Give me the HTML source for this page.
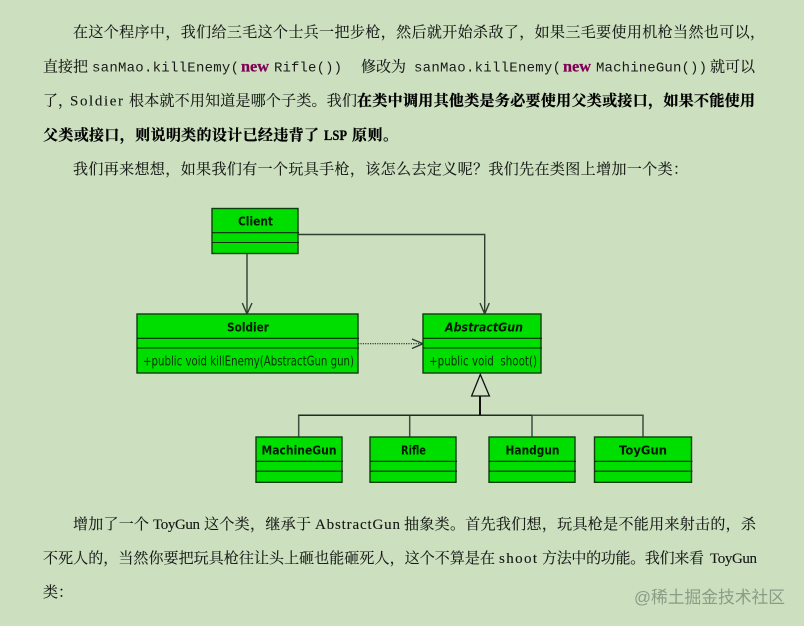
<!DOCTYPE html>
<html><head><meta charset="utf-8">
<style>
html,body{margin:0;padding:0;background:#cce0c0;width:804px;height:626px;overflow:hidden}
svg{display:block;filter:blur(0.35px)}
.t{font-family:"Liberation Serif","Noto Serif CJK SC",serif;font-size:15px;fill:#141714;stroke:#141714;stroke-width:.12}
.b{font-family:"Liberation Serif","Noto Serif CJK SC",serif;font-size:15px;font-weight:700;fill:#000;stroke:#000;stroke-width:.25}
.c{font-family:"Liberation Mono",monospace;font-size:14px;fill:#1a1a1a}
.n{font-family:"Liberation Serif",serif;font-size:16px;font-weight:700;fill:#7f0055;stroke:#7f0055;stroke-width:.25}
.h{font-family:"DejaVu Sans",sans-serif;font-size:12.5px;font-weight:700;fill:#031803;text-anchor:middle}
.m{font-family:"DejaVu Sans",sans-serif;font-size:13px;fill:#083008}
.w{font-family:"Liberation Sans","Noto Sans CJK SC",sans-serif;font-size:16.8px;fill:#8a9c85}
.box{fill:#00de00;stroke:#0d3f0d;stroke-width:1.4}
.sep{stroke:#062806;stroke-width:1.1}
.ln{stroke:#2f3f2f;stroke-width:1.4;fill:none}
</style></head><body>
<svg width="804" height="626" viewBox="0 0 804 626" xmlns="http://www.w3.org/2000/svg">
<rect width="804" height="626" fill="#cce0c0"/>

<text class="t" x="73" y="37" textLength="692" lengthAdjust="spacing">在这个程序中，我们给三毛这个士兵一把步枪，然后就开始杀敌了，如果三毛要使用机枪当然也可以，</text>

<text class="t" x="43" y="71.5" textLength="45" lengthAdjust="spacing">直接把</text>
<text class="c" x="92" y="71.5" textLength="147" lengthAdjust="spacing">sanMao.killEnemy(</text>
<text class="n" x="241" y="71.5" textLength="28" lengthAdjust="spacingAndGlyphs">new</text>
<text class="c" x="274" y="71.5" textLength="68" lengthAdjust="spacing">Rifle())</text>
<text class="t" x="361" y="71.5" textLength="45" lengthAdjust="spacing">修改为</text>
<text class="c" x="414" y="71.5" textLength="147" lengthAdjust="spacing">sanMao.killEnemy(</text>
<text class="n" x="563" y="71.5" textLength="28" lengthAdjust="spacingAndGlyphs">new</text>
<text class="c" x="596" y="71.5" textLength="111" lengthAdjust="spacing">MachineGun())</text>
<text class="t" x="710" y="71.5" textLength="45" lengthAdjust="spacing">就可以</text>

<text class="t" x="43" y="105.5" textLength="30" lengthAdjust="spacing">了，</text>
<text class="t" x="70" y="105.5" textLength="53" lengthAdjust="spacing">Soldier</text>
<text class="t" x="129" y="105.5" textLength="228" lengthAdjust="spacing">根本就不用知道是哪个子类。我们</text>
<text class="b" x="357" y="105.5" textLength="398" lengthAdjust="spacing">在类中调用其他类是务必要使用父类或接口，如果不能使用</text>

<text class="b" x="43" y="140" textLength="276" lengthAdjust="spacing">父类或接口，则说明类的设计已经违背了</text>
<text class="b" x="324" y="140" textLength="23" lengthAdjust="spacingAndGlyphs">LSP</text>
<text class="b" x="352" y="140" textLength="46" lengthAdjust="spacing">原则。</text>

<text class="t" x="73" y="174" textLength="615" lengthAdjust="spacing">我们再来想想，如果我们有一个玩具手枪，该怎么去定义呢？我们先在类图上增加一个类：</text>

<!-- Connectors -->
<path class="ln" d="M247 253V313"/>
<path class="ln" d="M242.3 303L247 314L252 303"/>
<path class="ln" d="M298 234.5H484.7V313"/>
<path class="ln" d="M480 303L484.7 314L489.3 303"/>
<path d="M358 343.7H422" stroke="#1f2f1f" stroke-width="1.1" stroke-dasharray="1.2 1.2" fill="none"/>
<path class="ln" d="M412 339L423 343.7L412 348.5"/>
<path d="M298.7 437V415.2H643V437M409.7 415.2V437M532 415.2V437" stroke="#3d4f3d" stroke-width="1.5" fill="none"/>
<path d="M298.7 415.2H532" stroke="#1a2a1a" stroke-width="1.3" fill="none"/>
<path d="M480 396V415" stroke="#111" stroke-width="2" fill="none"/>
<path d="M480.3 374.5L471.6 396H489.4Z" fill="#cfe1c4" stroke="#111" stroke-width="1.3"/>

<!-- Client -->
<rect class="box" x="212" y="208.5" width="86" height="45"/>
<path class="sep" d="M212 232.7H299M212 242.5H299"/>
<text class="h" x="255.5" y="225.5" textLength="35" lengthAdjust="spacingAndGlyphs">Client</text>

<!-- Soldier -->
<rect class="box" x="137" y="314" width="221" height="59"/>
<path class="sep" d="M137 338.3H359M137 348H359"/>
<text class="h" x="248" y="331.5" textLength="42" lengthAdjust="spacingAndGlyphs">Soldier</text>
<text class="m" x="143" y="365.5" textLength="211" lengthAdjust="spacingAndGlyphs">+public void killEnemy(AbstractGun gun)</text>

<!-- AbstractGun -->
<rect class="box" x="423" y="314" width="118" height="59"/>
<path class="sep" d="M423 338.3H542M423 348H542"/>
<text class="h" x="484" y="331.5" textLength="78" lengthAdjust="spacingAndGlyphs" font-style="italic">AbstractGun</text>
<text class="m" x="429" y="365.5" textLength="108" lengthAdjust="spacingAndGlyphs">+public void&#160;&#160;shoot()</text>

<!-- MachineGun -->
<rect class="box" x="256" y="437" width="86" height="45.3"/>
<path class="sep" d="M256 461.3H343M256 471.2H343"/>
<text class="h" x="299" y="454.5" textLength="75" lengthAdjust="spacingAndGlyphs">MachineGun</text>

<!-- Rifle -->
<rect class="box" x="370" y="437" width="86" height="45.3"/>
<path class="sep" d="M370 461.3H457M370 471.2H457"/>
<text class="h" x="413.5" y="454.5" textLength="25" lengthAdjust="spacingAndGlyphs">Rifle</text>

<!-- Handgun -->
<rect class="box" x="489" y="437" width="86" height="45.3"/>
<path class="sep" d="M489 461.3H576M489 471.2H576"/>
<text class="h" x="532.5" y="454.5" textLength="54" lengthAdjust="spacingAndGlyphs">Handgun</text>

<!-- ToyGun -->
<rect class="box" x="594.5" y="437" width="97" height="45.3"/>
<path class="sep" d="M594.5 461.3H692.5M594.5 471.2H692.5"/>
<text class="h" x="643" y="454.5" textLength="48" lengthAdjust="spacingAndGlyphs">ToyGun</text>

<text class="t" x="73" y="529" textLength="76" lengthAdjust="spacing">增加了一个</text>
<text class="t" x="153" y="529" textLength="47" lengthAdjust="spacing">ToyGun</text>
<text class="t" x="204" y="529" textLength="107" lengthAdjust="spacing">这个类，继承于</text>
<text class="t" x="315" y="529" textLength="85" lengthAdjust="spacing">AbstractGun</text>
<text class="t" x="404" y="529" textLength="352" lengthAdjust="spacing">抽象类。首先我们想，玩具枪是不能用来射击的，杀</text>

<text class="t" x="43" y="563" textLength="452" lengthAdjust="spacing">不死人的，当然你要把玩具枪往让头上砸也能砸死人，这个不算是在</text>
<text class="t" x="499" y="563" textLength="38" lengthAdjust="spacing">shoot</text>
<text class="t" x="542" y="563" textLength="162" lengthAdjust="spacing">方法中的功能。我们来看</text>
<text class="t" x="710" y="563" textLength="47" lengthAdjust="spacing">ToyGun</text>

<text class="t" x="43" y="597" textLength="30" lengthAdjust="spacing">类：</text>

<text class="w" x="634" y="603" textLength="151" lengthAdjust="spacing">@稀土掘金技术社区</text>
</svg>
</body></html>
